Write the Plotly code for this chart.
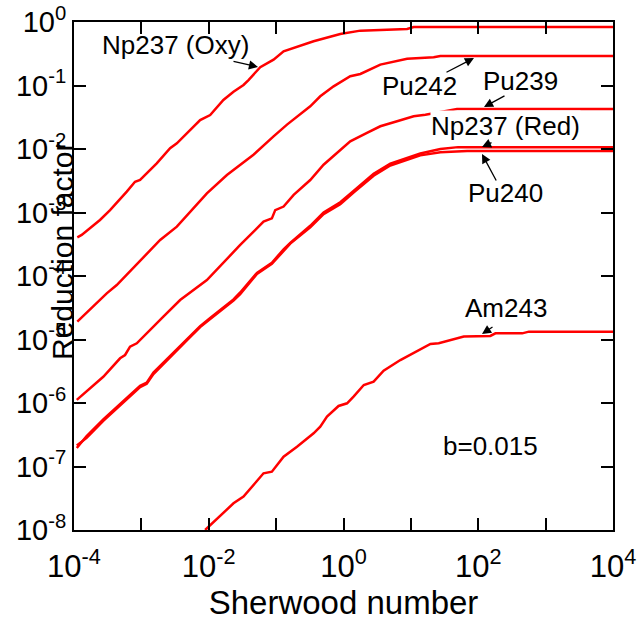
import plotly.graph_objects as go

# ---- data ----
np237_oxy_x = [1.12e-4, 1.30e-4, 2.43e-4, 3.43e-4, 6.07e-4, 8.05e-4, 9.57e-4, 1.69e-3, 2.67e-3, 3.36e-3,
               7.45e-3, 1.05e-2, 1.65e-2, 2.33e-2, 3.28e-2, 3.89e-2, 5.81e-2, 9.16e-2, 0.129, 0.215,
               0.360, 0.895, 1.78, 8.79, 11.0, 1e4]
np237_oxy_y = [4.07e-4, 4.43e-4, 7.62e-4, 1.09e-3, 2.13e-3, 3.05e-3, 3.25e-3, 5.96e-3, 1.03e-2, 1.23e-2,
               2.86e-2, 3.43e-2, 5.92e-2, 7.98e-2, 0.102, 0.122, 0.194, 0.255, 0.345, 0.414,
               0.497, 0.647, 0.731, 0.776, 0.834, 0.834]

pu242_x = [1.12e-4, 1.74e-4, 3.06e-4, 4.31e-4, 7.94e-4, 1.90e-3, 3.36e-3, 9.38e-3, 1.86e-2, 2.93e-2,
           4.61e-2, 9.16e-2, 0.145, 0.321, 0.452, 0.713, 1.26, 1.78, 3.52, 8.79, 21.8, 27.4, 1e4]
pu242_y = [1.91e-5, 3.02e-5, 5.33e-5, 7.21e-5, 1.41e-4, 3.69e-4, 5.98e-4, 2.00e-3, 3.90e-3, 5.66e-3,
           8.13e-3, 1.58e-2, 2.42e-2, 4.70e-2, 6.76e-2, 9.70e-2, 0.140, 0.152, 0.213, 0.264, 0.278, 0.292, 0.292]

pu239_x = [1.10e-4, 2.72e-4, 4.83e-4, 5.73e-4, 6.79e-4, 8.55e-4, 2.12e-3, 3.76e-3, 9.38e-3, 2.93e-2,
           6.50e-2, 8.65e-2, 9.70e-2, 0.129, 0.182, 0.321, 0.506, 0.800, 1.26, 2.23,
           3.52, 6.24, 11.0, 16.4, 48.5, 1e4]
pu239_y = [1.12e-6, 2.59e-6, 5.06e-6, 5.70e-6, 7.71e-6, 8.71e-6, 2.29e-5, 4.19e-5, 8.65e-5, 3.08e-4,
           7.18e-4, 8.09e-4, 1.09e-3, 1.24e-3, 1.89e-3, 3.25e-3, 5.66e-3, 8.65e-3, 1.32e-2, 1.79e-2,
           2.28e-2, 2.73e-2, 3.27e-2, 3.47e-2, 4.27e-2, 4.27e-2]

np237_red_x = [1.10e-4, 1.54e-4, 2.72e-4, 9.57e-4, 1.20e-3, 1.51e-3, 4.73e-3, 7.45e-3, 1.05e-2, 2.33e-2,
               2.93e-2, 5.19e-2, 8.65e-2, 0.129, 0.162, 0.321, 0.506, 0.895, 1.41, 2.80,
               4.95, 13.8, 27.4, 50.1, 1e4]
np237_red_y = [1.95e-7, 3.02e-7, 5.50e-7, 1.86e-6, 2.09e-6, 3.02e-6, 1.00e-5, 1.62e-5, 2.19e-5, 4.27e-5,
               5.50e-5, 1.12e-4, 1.62e-4, 2.63e-4, 3.31e-4, 6.17e-4, 1.00e-3, 1.45e-3, 2.19e-3, 4.07e-3,
               5.89e-3, 8.51e-3, 1.00e-2, 1.07e-2, 1.07e-2]

pu240_x = [1.10e-4, 1.54e-4, 2.72e-4, 9.57e-4, 1.20e-3, 1.51e-3, 4.73e-3, 7.45e-3, 1.05e-2, 2.33e-2,
           2.93e-2, 5.19e-2, 8.65e-2, 0.129, 0.162, 0.321, 0.506, 0.895, 1.41, 2.80,
           4.95, 13.8, 27.4, 68.4, 1e4]
pu240_y = [2.14e-7, 2.82e-7, 5.25e-7, 1.78e-6, 2.00e-6, 2.85e-6, 9.66e-6, 1.57e-5, 2.11e-5, 4.12e-5,
           5.19e-5, 1.08e-4, 1.55e-4, 2.51e-4, 3.24e-4, 5.82e-4, 9.44e-4, 1.35e-3, 2.07e-3, 3.80e-3,
           5.50e-3, 7.94e-3, 8.91e-3, 9.33e-3, 9.33e-3]

am243_x = [8.83e-3, 2.33e-2, 3.28e-2, 6.50e-2, 8.65e-2, 0.129, 0.204, 0.360, 0.452, 0.569,
           0.845, 1.13, 1.41, 2.00, 2.80, 3.94, 6.98, 19.5, 25.9, 43.3,
           61.0, 151, 180, 449, 564, 1e4]
am243_y = [1.00e-8, 2.63e-8, 3.35e-8, 7.82e-8, 8.28e-8, 1.43e-7, 2.05e-7, 3.33e-7, 4.24e-7, 6.10e-7,
           8.98e-7, 9.89e-7, 1.26e-6, 1.92e-6, 2.17e-6, 3.23e-6, 4.75e-6, 8.49e-6, 8.71e-6, 1.01e-5,
           1.11e-5, 1.14e-5, 1.25e-5, 1.25e-5, 1.33e-5, 1.33e-5]

series = [
    ("Np237 (Oxy)", np237_oxy_x, np237_oxy_y),
    ("Pu242", pu242_x, pu242_y),
    ("Pu239", pu239_x, pu239_y),
    ("Np237 (Red)", np237_red_x, np237_red_y),
    ("Pu240", pu240_x, pu240_y),
    ("Am243", am243_x, am243_y),
]

x_tickvals = [1e-4, 1e-2, 1e0, 1e2, 1e4]
x_ticktext = ["10<sup>-4</sup>", "10<sup>-2</sup>", "10<sup>0</sup>", "10<sup>2</sup>", "10<sup>4</sup>"]
x_minorvals = [1e-3, 1e-1, 1e1, 1e3]
y_tickvals = [1e0, 1e-1, 1e-2, 1e-3, 1e-4, 1e-5, 1e-6, 1e-7, 1e-8]
y_ticktext = ["10<sup>0</sup>", "10<sup>-1</sup>", "10<sup>-2</sup>", "10<sup>-3</sup>", "10<sup>-4</sup>",
              "10<sup>-5</sup>", "10<sup>-6</sup>", "10<sup>-7</sup>", "10<sup>-8</sup>"]

FONT = "Liberation Sans, Arial, sans-serif"
W, H = 640, 627
# plot area in window pixels: x 74..613, y 22..530
L, R, T, B = 74, 27, 22, 97
PW, PH = W - L - R, H - T - B


def px(x):
    return (x - L) / PW


def py(y):
    return (H - B - y) / PH


fig = go.Figure()
for name, xs, ys in series:
    fig.add_trace(go.Scatter(x=xs, y=ys, mode="lines", name=name,
                             line=dict(color="#ff0000", width=2.5), showlegend=False))

labels = [
    ("Np237 (Oxy)", 175, 45),
    ("Pu242", 419, 86),
    ("Pu239", 520, 81),
    ("Np237 (Red)", 505, 126),
    ("Pu240", 505, 193),
    ("Am243", 506, 308),
    ("b=0.015", 490, 446),
]
for text, x, y in labels:
    fig.add_annotation(text=text, x=px(x), y=py(y), xref="paper", yref="paper",
                       showarrow=False, font=dict(family=FONT, size=26, color="black"),
                       bgcolor="white" if text == "Np237 (Red)" else None,
                       borderpad=0,
                       xanchor="center", yanchor="middle")

arrows = [  # tip x, tip y, tail offset x, tail offset y (pixels)
    (258, 67, -26, -6),
    (474, 58, -29, 15),
    (484, 107, 22, -12),
    (482, 147, 11, -5),
    (482, 154, 15, 28),
    (482, 334, 12, -8),
]
for tx, ty, ax, ay in arrows:
    fig.add_annotation(text="", x=px(tx), y=py(ty), xref="paper", yref="paper",
                       showarrow=True, ax=ax, ay=ay, arrowhead=2, arrowsize=1.4,
                       arrowwidth=1.3, arrowcolor="black")

fig.add_annotation(text="Reduction factor", x=px(62), y=py(251), xref="paper", yref="paper",
                   showarrow=False, textangle=-90, font=dict(family=FONT, size=30, color="black"),
                   xanchor="center", yanchor="middle")

axis_common = dict(type="log", showgrid=False, zeroline=False, showline=True, linecolor="black",
                   linewidth=2, mirror="ticks", ticks="inside", ticklen=12, tickwidth=2,
                   tickcolor="black", tickmode="array", ticklabeloverflow="allow")

fig.update_xaxes(range=[-4, 4], tickvals=x_tickvals, ticktext=x_ticktext,
                 tickfont=dict(family=FONT, size=31, color="black"), ticklabelstandoff=8,
                 minor=dict(tickmode="array", tickvals=x_minorvals, ticks="inside", ticklen=12,
                            tickwidth=2, tickcolor="black", showgrid=False),
                 title=dict(text="Sherwood number", font=dict(family=FONT, size=33, color="black"), standoff=7),
                 **axis_common)
fig.update_yaxes(range=[-8, 0], tickvals=y_tickvals, ticktext=y_ticktext,
                 tickfont=dict(family=FONT, size=29, color="black"), **axis_common)

fig.update_layout(width=W, height=H, margin=dict(l=L, r=R, t=T, b=B, autoexpand=False),
                  plot_bgcolor="white", paper_bgcolor="white", showlegend=False)

fig.write_html("out.html", config={"displayModeBar": False},
               post_script="document.body.style.margin='0';document.body.style.overflow='hidden';")
